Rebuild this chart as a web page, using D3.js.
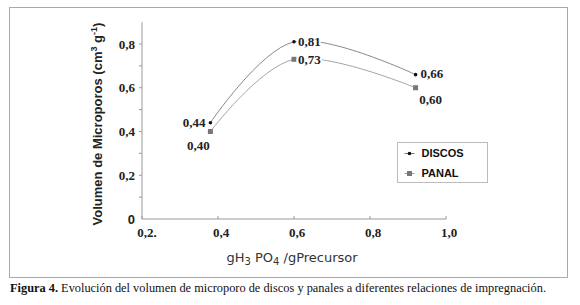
<!DOCTYPE html>
<html>
<head>
<meta charset="utf-8">
<script src="https://cdn.jsdelivr.net/npm/d3@7"></script>
<style>
  body { margin: 0; background: #fff; }
</style>
</head>
<body>
<svg id="chart" width="580" height="305"></svg>
<script>
const ratio = [0.38, 0.6, 0.92];
const discos = [0.44, 0.81, 0.66];
const panal = [0.40, 0.73, 0.60];
const xTicks = [0.2, 0.4, 0.6, 0.8, 1.0];
const xTickLabels = ["0,2.", "0,4", "0,6", "0,8", "1,0"];
const yTicks = [0, 0.2, 0.4, 0.6, 0.8];
const yTickLabels = ["0", "0,2", "0,4", "0,6", "0,8"];
const seriesNames = ["DISCOS", "PANAL"];

const svg = d3.select("#chart");
const fmt = v => d3.format(".2f")(v).replace(".", ",");
const serif = "'Liberation Serif', 'Times New Roman', serif";
const sans = "'Liberation Sans', Arial, sans-serif";

const x = d3.scaleLinear().domain([0.2, 1.0]).range([142, 446]);
const y = d3.scaleLinear().domain([0, 0.8]).range([219, 44]);

// outer frame
svg.append("rect")
    .attr("x", 9.5).attr("y", 7.5)
    .attr("width", 558).attr("height", 270)
    .attr("fill", "#fff")
    .attr("stroke", "#aaa");

// y axis
const yAxis = svg.append("g")
    .attr("transform", `translate(${x(0.2)},0)`);
yAxis.append("line")
    .attr("y1", y(0)).attr("y2", y(0.9))
    .attr("stroke", "#999");
yAxis.selectAll(".minor")
    .data(d3.range(1, 9).map(d => d / 10))
    .enter().append("line")
    .attr("x1", -3).attr("x2", 0)
    .attr("y1", d => y(d)).attr("y2", d => y(d))
    .attr("stroke", "#999");
yAxis.selectAll(".yl")
    .data(yTicks)
    .enter().append("text")
    .attr("x", -7)
    .attr("y", d => y(d))
    .attr("dy", "0.35em")
    .attr("text-anchor", "end")
    .style("font-family", (d, i) => i === 0 ? sans : serif)
    .style("font-weight", "bold")
    .style("font-size", "13px")
    .attr("fill", "#222")
    .text((d, i) => yTickLabels[i]);

// x axis
const xAxis = svg.append("g")
    .attr("transform", `translate(0,${y(0)})`);
xAxis.append("line")
    .attr("x1", x(0.2)).attr("x2", x(1.0))
    .attr("stroke", "#999");
xAxis.selectAll(".xt")
    .data(xTicks)
    .enter().append("line")
    .attr("x1", d => x(d)).attr("x2", d => x(d))
    .attr("y1", -3).attr("y2", 0)
    .attr("stroke", "#999");
xAxis.selectAll(".xl")
    .data(xTicks)
    .enter().append("text")
    .attr("x", (d, i) => x(d) + (i === 0 ? 5 : 3))
    .attr("y", 18)
    .attr("text-anchor", "middle")
    .style("font-family", serif)
    .style("font-weight", "bold")
    .style("font-size", "13px")
    .attr("fill", "#222")
    .text((d, i) => xTickLabels[i]);

// axis titles
const yTitle = svg.append("text")
    .attr("transform", `translate(102,124) rotate(-90)`)
    .attr("text-anchor", "middle")
    .style("font-family", sans)
    .style("font-weight", "bold")
    .style("font-size", "13px")
    .attr("fill", "#222");
yTitle.append("tspan").text("Volumen de Microporos (cm");
yTitle.append("tspan").attr("dy", -5).style("font-size", "9px").text("3");
yTitle.append("tspan").attr("dy", 5).text(" g");
yTitle.append("tspan").attr("dy", -5).style("font-size", "9px").text("-1");
yTitle.append("tspan").attr("dy", 5).text(")");

const xTitle = svg.append("text")
    .attr("x", 292).attr("y", 262)
    .attr("text-anchor", "middle")
    .style("font-family", "'DejaVu Sans', sans-serif")
    .style("font-size", "13px")
    .attr("fill", "#333");
xTitle.append("tspan").text("gH");
xTitle.append("tspan").attr("dy", 3).style("font-size", "10px").text("3");
xTitle.append("tspan").attr("dy", -3).text(" PO");
xTitle.append("tspan").attr("dy", 3).style("font-size", "10px").text("4");
xTitle.append("tspan").attr("dy", -3).text(" /gPrecursor");

// lines
const line = d3.line()
    .x(d => x(d[0]))
    .y(d => y(d[1]))
    .curve(d3.curveCardinal.tension(0));

const discosData = ratio.map((r, i) => [r, discos[i]]);
const panalData = ratio.map((r, i) => [r, panal[i]]);

svg.append("path")
    .attr("d", line(discosData))
    .attr("fill", "none")
    .attr("stroke", "#7a7a7a")
    .attr("stroke-width", 0.9);
svg.append("path")
    .attr("d", line(panalData))
    .attr("fill", "none")
    .attr("stroke", "#9a9a9a")
    .attr("stroke-width", 0.9);

// markers
svg.selectAll(".dm")
    .data(discosData)
    .enter().append("circle")
    .attr("cx", d => x(d[0])).attr("cy", d => y(d[1]))
    .attr("r", 1.8)
    .attr("fill", "#111");
svg.selectAll(".pm")
    .data(panalData)
    .enter().append("rect")
    .attr("x", d => x(d[0]) - 2.5).attr("y", d => y(d[1]) - 2.5)
    .attr("width", 5).attr("height", 5)
    .attr("fill", "#777");

// data labels
const discosPlace = [[-5, 0, "end"], [4, 0, "start"], [5, -1, "start"]];
const panalPlace = [[-12, 14, "middle"], [4, 0, "start"], [15, 12, "middle"]];

function labels(data, place) {
    svg.append("g").selectAll("text")
        .data(data)
        .enter().append("text")
        .attr("x", (d, i) => x(d[0]) + place[i][0])
        .attr("y", (d, i) => y(d[1]) + place[i][1])
        .attr("dy", "0.35em")
        .attr("text-anchor", (d, i) => place[i][2])
        .style("font-family", serif)
        .style("font-weight", "bold")
        .style("font-size", "13px")
        .attr("fill", "#222")
        .attr("stroke", "#fff")
        .attr("stroke-width", 4)
        .style("paint-order", "stroke")
        .text(d => fmt(d[1]));
}
labels(discosData, discosPlace);
labels(panalData, panalPlace);

// legend
const legend = svg.append("g").attr("transform", "translate(397.5,142.5)");
legend.append("rect")
    .attr("width", 90).attr("height", 40)
    .attr("fill", "#fff")
    .attr("stroke", "#bbb");
const entries = legend.selectAll(".entry")
    .data(seriesNames)
    .enter().append("g")
    .attr("transform", (d, i) => `translate(0,${11 + i * 20})`);
entries.append("line")
    .attr("x1", 7).attr("x2", 17)
    .attr("stroke", (d, i) => i === 0 ? "#7a7a7a" : "#9a9a9a");
entries.filter((d, i) => i === 0).append("circle")
    .attr("cx", 12).attr("r", 1.8).attr("fill", "#111");
entries.filter((d, i) => i === 1).append("rect")
    .attr("x", 9.5).attr("y", -2.5).attr("width", 5).attr("height", 5).attr("fill", "#777");
entries.append("text")
    .attr("x", 24)
    .attr("dy", "0.35em")
    .style("font-family", sans)
    .style("font-weight", "bold")
    .style("font-size", "11px")
    .attr("fill", "#111")
    .text(d => d);

// caption
const caption = svg.append("text")
    .attr("x", 10).attr("y", 292)
    .attr("textLength", 536)
    .attr("lengthAdjust", "spacingAndGlyphs")
    .style("font-family", serif)
    .style("font-size", "13px")
    .attr("fill", "#111");
caption.append("tspan").style("font-weight", "bold").text("Figura 4.");
caption.append("tspan").text(" Evolución del volumen de microporo de discos y panales a diferentes relaciones de impregnación.");
</script>
</body>
</html>
